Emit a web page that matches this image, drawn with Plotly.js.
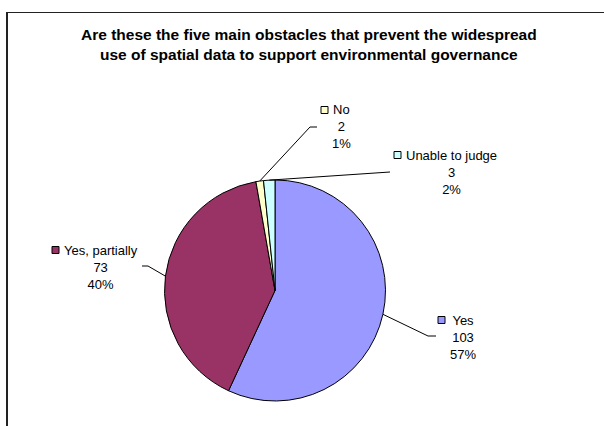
<!DOCTYPE html>
<html><head><meta charset="utf-8">
<script src="https://cdn.plot.ly/plotly-3.0.1.min.js"></script>
<style>
html,body{margin:0;padding:0;background:#fff;overflow:hidden}
#wrap{position:relative;width:604px;height:426px;overflow:hidden}
#chart{width:604px;height:426px}
#frame{position:absolute;left:6px;top:12px;width:800px;height:600px;border-top:1.5px solid #222;border-left:2px solid #222;pointer-events:none}
</style>
</head><body><div id="wrap"><div id="chart"></div><div id="frame"></div></div>
<script>
// ---- data ----
const categories = ['Yes', 'Yes, partially', 'No', 'Unable to judge'];
const counts = [103, 73, 2, 3];
const percents = ['57%', '40%', '1%', '2%'];
const colors = ['#9999FF', '#993366', '#FFFFCC', '#CCFFFF'];
const titleText = 'Are these the five main obstacles that prevent the widespread<br>use of spatial data to support environmental governance';

// ---- layout constants (pixels) ----
const W = 604, H = 426;
const CX = 275, CY = 290.5, R = 110.5;
const FONT = 'Liberation Sans, Arial, sans-serif';
const LINE = 17;
// tx,ty: label text centre / middle line; ex,ey: leader elbow; hx: leader end x; kx: key square left
const labelLayout = [
  {tx: 463,   ty: 337, ex: 428, ey: 336, hx: 436, kx: 438},
  {tx: 101,   ty: 267, ex: 148, ey: 266, hx: 142, kx: 52},
  {tx: 341.5, ty: 127, ex: 310, ey: 127, hx: 317, kx: 321},
  {tx: 451,   ty: 172, ex: 390, ey: 172, hx: 390, kx: 394}
];

const px = x => x / W;
const py = y => 1 - y / H;

const total = counts.reduce((a, b) => a + b, 0);
const shapes = [];
const annotations = [];

let cum = 0;
categories.forEach((cat, i) => {
  const mid = (cum + counts[i] / 2) / total * 2 * Math.PI;
  cum += counts[i];
  const sx = CX + R * Math.sin(mid);
  const sy = CY - R * Math.cos(mid);
  const L = labelLayout[i];
  shapes.push({type: 'path', xref: 'paper', yref: 'paper',
    path: `M ${px(sx)},${py(sy)} L ${px(L.ex)},${py(L.ey)} L ${px(L.hx)},${py(L.ey)}`,
    fillcolor: 'rgba(0,0,0,0)', line: {color: '#000', width: 1}});
  const ky = L.ty - LINE;
  shapes.push({type: 'rect', xref: 'paper', yref: 'paper',
    x0: px(L.kx), x1: px(L.kx + 7), y0: py(ky - 3.5), y1: py(ky + 3.5),
    line: {color: '#000', width: 1}, fillcolor: colors[i]});
  annotations.push({xref: 'paper', yref: 'paper', x: px(L.tx), y: py(L.ty),
    xanchor: 'center', yanchor: 'middle', align: 'center', showarrow: false,
    text: `${cat}<br>${counts[i]}<br>${percents[i]}`,
    font: {family: FONT, size: 13, color: '#000'}});
});

// chart title
annotations.push({xref: 'paper', yref: 'paper', x: px(309), y: py(44),
  xanchor: 'center', yanchor: 'middle', align: 'center', showarrow: false,
  text: '<b>' + titleText + '</b>',
  font: {family: FONT, size: 15.5, color: '#000'}});

const trace = {
  type: 'pie', values: counts, labels: categories, sort: false,
  direction: 'clockwise', rotation: 0,
  marker: {colors: colors, line: {color: '#000', width: 1}},
  textinfo: 'none', hoverinfo: 'none', showlegend: false,
  domain: {x: [px(CX - R), px(CX + R)], y: [py(CY + R), py(CY - R)]}
};

const layout = {
  width: W, height: H, margin: {l: 0, r: 0, t: 0, b: 0},
  paper_bgcolor: '#fff', plot_bgcolor: '#fff',
  shapes: shapes, annotations: annotations, showlegend: false
};

Plotly.newPlot('chart', [trace], layout, {staticPlot: true, displayModeBar: false});
</script></body></html>
